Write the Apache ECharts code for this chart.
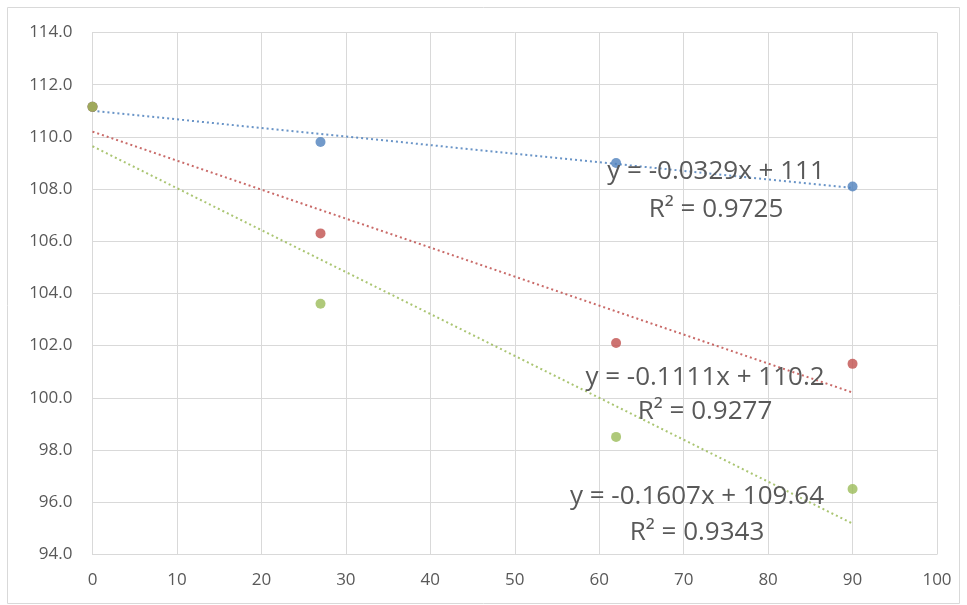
<!DOCTYPE html>
<html><head><meta charset="utf-8">
<script src="https://cdn.jsdelivr.net/npm/echarts@6/dist/echarts.min.js"></script>
<style>html,body{margin:0;padding:0;background:#fff}#c{width:967px;height:605px}</style>
</head><body><div id="c"></div>
<script>
const xValues = [0, 27, 62, 90];
const blueValues = [111.15, 109.8, 109.0, 108.1];
const redValues = [111.15, 106.3, 102.1, 101.3];
const greenValues = [111.15, 103.6, 98.5, 96.5];
const blueTrend = [-0.0329, 111];
const redTrend = [-0.1111, 110.2];
const greenTrend = [-0.1607, 109.64];
const blueLabel = ['y = -0.0329x + 111', 'R² = 0.9725'];
const redLabel = ['y = -0.1111x + 110.2', 'R² = 0.9277'];
const greenLabel = ['y = -0.1607x + 109.64', 'R² = 0.9343'];

const colors = ['#4F81BD', '#C0504D', '#9BBB59'];
const chart = echarts.init(document.getElementById('c'));
const pts = v => xValues.map((x, i) => [x, v[i]]);
const trend = t => [[0, t[1]], [90, t[0] * 90 + t[1]]];
const textStyle = {fill: '#595959', font: '26px "Open Sans", sans-serif', textAlign: 'center', textVerticalAlign: 'middle'};
function lbl(lines, cx, y1, y2) {
  return [
    {type: 'text', x: cx, y: y1, style: Object.assign({text: lines[0]}, textStyle), z: 100},
    {type: 'text', x: cx, y: y2, style: Object.assign({text: lines[1]}, textStyle), z: 100}
  ];
}
const series = [];
[[redTrend, 1], [greenTrend, 2], [blueTrend, 0]].forEach(([t, i]) => series.push({
  type: 'line', data: trend(t), symbol: 'none', silent: true,
  lineStyle: {color: colors[i], width: 2, type: [2, 3], opacity: 0.85}
}));
[[blueValues, 0], [redValues, 1], [greenValues, 2]].forEach(([v, i]) => series.push({
  type: 'scatter', data: pts(v), symbolSize: 10, itemStyle: {color: colors[i]}, z: 5
}));
chart.setOption({
  animation: false,
  grid: {left: 92.5, top: 32.5, right: 30, bottom: 50.7},
  xAxis: {type: 'value', min: 0, max: 100, interval: 10,
    axisLine: {show: true, lineStyle: {color: '#d9d9d9', width: 1}}, axisTick: {show: false},
    axisLabel: {color: '#595959', fontSize: 17, margin: 17, fontFamily: 'Open Sans'},
    splitLine: {show: true, lineStyle: {color: '#d9d9d9'}}},
  yAxis: {type: 'value', min: 94, max: 114, interval: 2,
    axisLine: {show: true, lineStyle: {color: '#d9d9d9', width: 1}}, axisTick: {show: false},
    axisLabel: {color: '#595959', fontSize: 17, margin: 20, fontFamily: 'Open Sans', formatter: v => v.toFixed(1)},
    splitLine: {show: true, lineStyle: {color: '#d9d9d9'}}},
  series: series,
  graphic: [
    {type: 'rect', shape: {x: 7.5, y: 7.5, width: 952, height: 596}, style: {fill: 'none', stroke: '#d9d9d9', lineWidth: 1}, silent: true},
    ...lbl(blueLabel, 716, 172, 210),
    ...lbl(redLabel, 705, 378, 412),
    ...lbl(greenLabel, 697, 497, 533)
  ]
});
</script></body></html>
